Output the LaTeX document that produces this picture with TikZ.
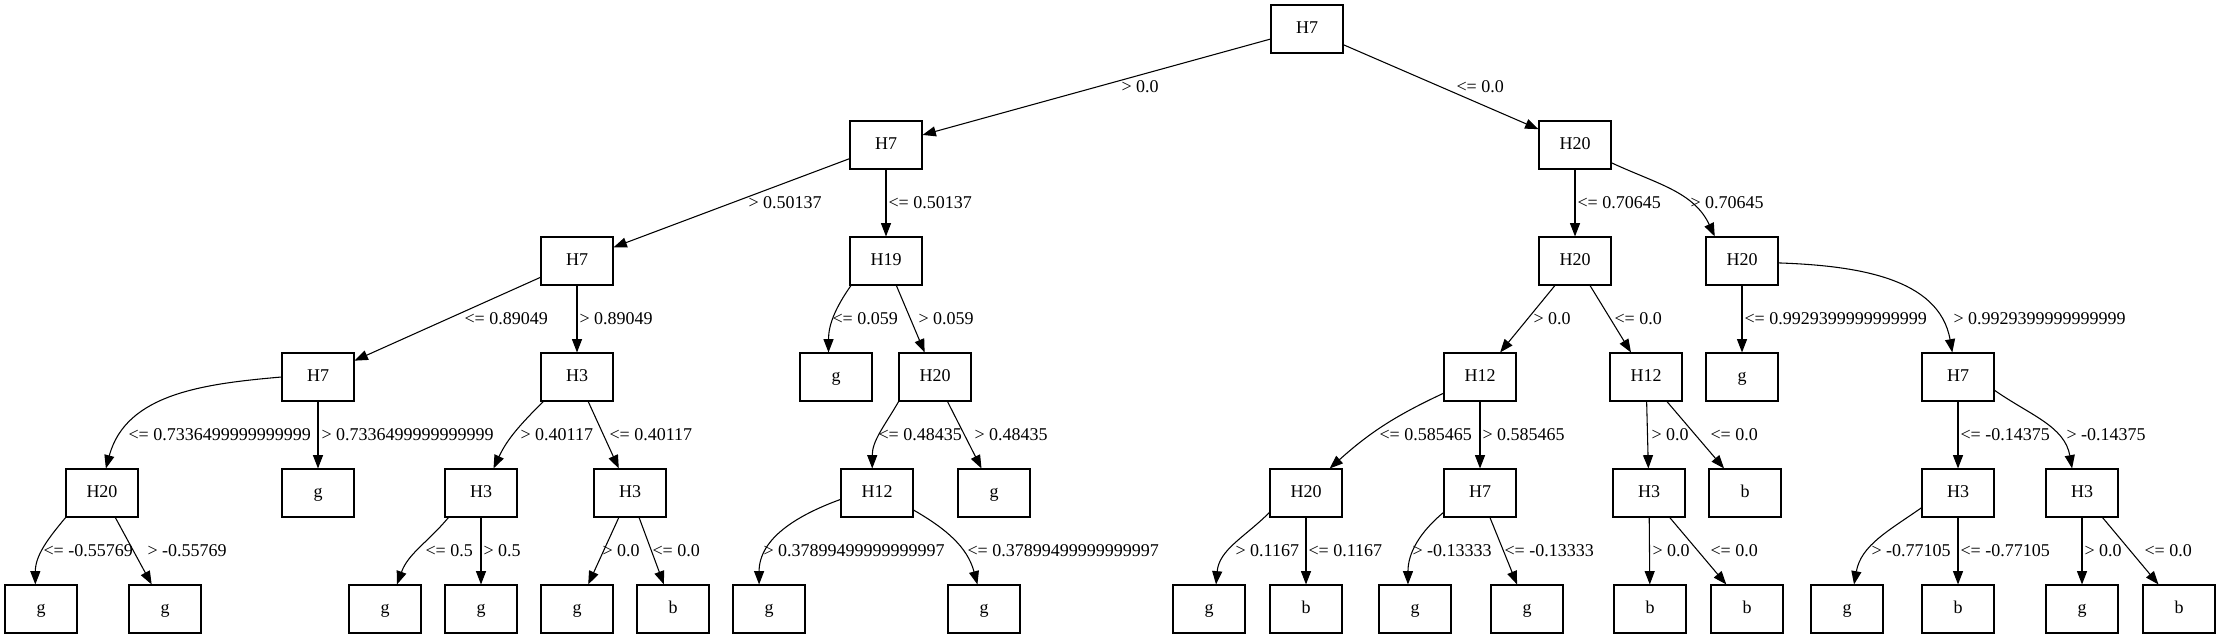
\documentclass[tikz,border=0pt]{standalone}
\usepackage{fontspec}
\setmainfont{Liberation Serif}
\usetikzlibrary{arrows.meta}

\begin{document}
\begin{tikzpicture}[
  x=0.75pt, y=-0.75pt,
  font=\fontsize{13.5pt}{16pt}\selectfont,
  line width=0.8pt,
  arr/.style={-{Triangle[length=10pt,width=7.5pt]}},
  box/.style={draw, rectangle, minimum width=54pt, minimum height=36pt,
    inner sep=0pt, text height=9.5pt, text depth=3pt},
  lab/.style={anchor=west, inner sep=0pt}
]
  \useasboundingbox (0,0) rectangle (2220,639);

  % tree nodes, row by row
  \node[box] (r)   at (1307,29)  {H7};

  \node[box] (rL)  at (886,145)  {H7};
  \node[box] (rR)  at (1575,145) {H20};

  \node[box] (rLL) at (577,261)  {H7};
  \node[box] (rLR) at (886,261)  {H19};
  \node[box] (rRL) at (1575,261) {H20};
  \node[box] (rRR) at (1742,261) {H20};

  \node[box] (rLLL) at (318,377)  {H7};
  \node[box] (rLLR) at (577,377)  {H3};
  \node[box] (rLRL) at (836,377)  {g};
  \node[box] (rLRR) at (935,377)  {H20};
  \node[box] (rRLL) at (1480,377) {H12};
  \node[box] (rRLR) at (1646,377) {H12};
  \node[box] (rRRL) at (1742,377) {g};
  \node[box] (rRRR) at (1958,377) {H7};

  \node[box] (rLLLL) at (102,493)  {H20};
  \node[box] (rLLLR) at (318,493)  {g};
  \node[box] (rLLRL) at (481,493)  {H3};
  \node[box] (rLLRR) at (630,493)  {H3};
  \node[box] (rLRRL) at (877,493)  {H12};
  \node[box] (rLRRR) at (994,493)  {g};
  \node[box] (rRLLL) at (1306,493) {H20};
  \node[box] (rRLLR) at (1480,493) {H7};
  \node[box] (rRLRL) at (1649,493) {H3};
  \node[box] (rRLRR) at (1745,493) {b};
  \node[box] (rRRRL) at (1958,493) {H3};
  \node[box] (rRRRR) at (2082,493) {H3};

  \node[box] (rLLLLL) at (41,609)   {g};
  \node[box] (rLLLLR) at (165,609)  {g};
  \node[box] (rLLRLL) at (385,609)  {g};
  \node[box] (rLLRLR) at (481,609)  {g};
  \node[box] (rLLRRL) at (577,609)  {g};
  \node[box] (rLLRRR) at (673,609)  {b};
  \node[box] (rLRRLL) at (769,609)  {g};
  \node[box] (rLRRLR) at (984,609)  {g};
  \node[box] (rRLLLL) at (1209,609) {g};
  \node[box] (rRLLLR) at (1306,609) {b};
  \node[box] (rRLLRL) at (1415,609) {g};
  \node[box] (rRLLRR) at (1527,609) {g};
  \node[box] (rRLRLL) at (1650,609) {b};
  \node[box] (rRLRLR) at (1747,609) {b};
  \node[box] (rRRRLL) at (1847,609) {g};
  \node[box] (rRRRLR) at (1958,609) {b};
  \node[box] (rRRRRL) at (2082,609) {g};
  \node[box] (rRRRRR) at (2179,609) {b};

  % edges
  \draw[arr] (r) -- (rL);
  \draw[arr] (r) -- (rR);

  \draw[arr] (rL) -- (rLL);
  \draw[arr] (rL) -- (rLR);
  \draw[arr] (rR) -- (rRL);
  \draw[arr] (rR.-26) to[out=-25,in=115] (rRR.138);

  \draw[arr] (rLL) -- (rLLL);
  \draw[arr] (rLL) -- (rLLR);
  \draw[arr] (rLR.-145) to[out=-125,in=90] (rLRL.107);
  \draw[arr] (rLR) -- (rLRR);
  \draw[arr] (rRL) -- (rRLL);
  \draw[arr] (rRL) -- (rRLR);
  \draw[arr] (rRR) -- (rRRL);
  \draw[arr] (rRR.-3) to[out=-2,in=100] (rRRR.103);

  \draw[arr] (rLLL.west) to[out=185,in=75] (rLLLL.81);
  \draw[arr] (rLLL) -- (rLLLR);
  \draw[arr] (rLLR.-144) to[out=-135,in=65] (rLLRL.63);
  \draw[arr] (rLLR) -- (rLLRR);
  \draw[arr] (rLRR.-146) to[out=-120,in=90] (rLRRL.101);
  \draw[arr] (rLRR) -- (rLRRR);
  \draw[arr] (rRLL.-156) to[out=-155,in=42] (rRLLL.46);
  \draw[arr] (rRLL) -- (rRLLR);
  \draw[arr] (rRLR) -- (rRLRL);
  \draw[arr] (rRLR) -- (rRLRR);
  \draw[arr] (rRRR) -- (rRRRL);
  \draw[arr] (rRRR.-20) to[out=-35,in=100] (rRRRR.112);

  \draw[arr] (rLLLL.-146) to[out=-130,in=90] (rLLLLL.103);
  \draw[arr] (rLLLL) -- (rLLLLR);
  \draw[arr] (rLLRL.-143) to[out=-130,in=70] (rLLRLL.64);
  \draw[arr] (rLLRL) -- (rLLRLR);
  \draw[arr] (rLLRR) -- (rLLRRL);
  \draw[arr] (rLLRR) -- (rLLRRR);
  \draw[arr] (rLRRL.-170) to[out=-160,in=90] (rLRRLL.112);
  \draw[arr] (rLRRL.-25) to[out=-30,in=105] (rLRRLR.105);
  \draw[arr] (rRLLL.-152) to[out=-135,in=85] (rRLLLL.74);
  \draw[arr] (rRLLL) -- (rRLLLR);
  \draw[arr] (rRLLR.-152) to[out=-140,in=90] (rRLLRL.106);
  \draw[arr] (rRLLR) -- (rRLLRR);
  \draw[arr] (rRLRL) -- (rRLRLL);
  \draw[arr] (rRLRL) -- (rRLRLR);
  \draw[arr] (rRRRL.-158) to[out=-145,in=80] (rRRRLL.74);
  \draw[arr] (rRRRL) -- (rRRRLR);
  \draw[arr] (rRRRR) -- (rRRRRL);
  \draw[arr] (rRRRR) -- (rRRRRR);

  % split labels
  \node[lab] (l1a) at (1121,87) {> 0.0};
  \node[lab] (l1b) at (1456,87) {<= 0.0};

  \node[lab] (l2a) at (748,203)  {> 0.50137};
  \node[lab] (l2b) at (888,203)  {<= 0.50137};
  \node[lab] (l2c) at (1577,203) {<= 0.70645};
  \node[lab] (l2d) at (1690,203) {> 0.70645};

  \node[lab] (l3a) at (464,319)  {<= 0.89049};
  \node[lab] (l3b) at (579,319)  {> 0.89049};
  \node[lab] (l3c) at (832,319)  {<= 0.059};
  \node[lab] (l3d) at (918,319)  {> 0.059};
  \node[lab] (l3e) at (1533,319) {> 0.0};
  \node[lab] (l3f) at (1614,319) {<= 0.0};
  \node[lab] (l3g) at (1744,319) {<= 0.9929399999999999};
  \node[lab] (l3h) at (1953,319) {> 0.9929399999999999};

  \node[lab] (l4a) at (128,435)  {<= 0.7336499999999999};
  \node[lab] (l4b) at (321,435)  {> 0.7336499999999999};
  \node[lab] (l4c) at (520,435)  {> 0.40117};
  \node[lab] (l4d) at (609,435)  {<= 0.40117};
  \node[lab] (l4e) at (878,435)  {<= 0.48435};
  \node[lab] (l4f) at (974,435)  {> 0.48435};
  \node[lab] (l4g) at (1379,435) {<= 0.585465};
  \node[lab] (l4h) at (1482,435) {> 0.585465};
  \node[lab] (l4i) at (1651,435) {> 0.0};
  \node[lab] (l4j) at (1710,435) {<= 0.0};
  \node[lab] (l4k) at (1960,435) {<= -0.14375};
  \node[lab] (l4l) at (2066,435) {> -0.14375};

  \node[lab] (l5a) at (43,551)   {<= -0.55769};
  \node[lab] (l5b) at (147,551)  {> -0.55769};
  \node[lab] (l5c) at (425,551)  {<= 0.5};
  \node[lab] (l5d) at (483,551)  {> 0.5};
  \node[lab] (l5e) at (602,551)  {> 0.0};
  \node[lab] (l5f) at (652,551)  {<= 0.0};
  \node[lab] (l5g) at (763,551)  {> 0.37899499999999997};
  \node[lab] (l5h) at (967,551)  {<= 0.37899499999999997};
  \node[lab] (l5i) at (1235,551) {> 0.1167};
  \node[lab] (l5j) at (1308,551) {<= 0.1167};
  \node[lab] (l5k) at (1412,551) {> -0.13333};
  \node[lab] (l5l) at (1504,551) {<= -0.13333};
  \node[lab] (l5m) at (1652,551) {> 0.0};
  \node[lab] (l5n) at (1710,551) {<= 0.0};
  \node[lab] (l5o) at (1871,551) {> -0.77105};
  \node[lab] (l5p) at (1960,551) {<= -0.77105};
  \node[lab] (l5q) at (2084,551) {> 0.0};
  \node[lab] (l5r) at (2144,551) {<= 0.0};
\end{tikzpicture}
\end{document}
